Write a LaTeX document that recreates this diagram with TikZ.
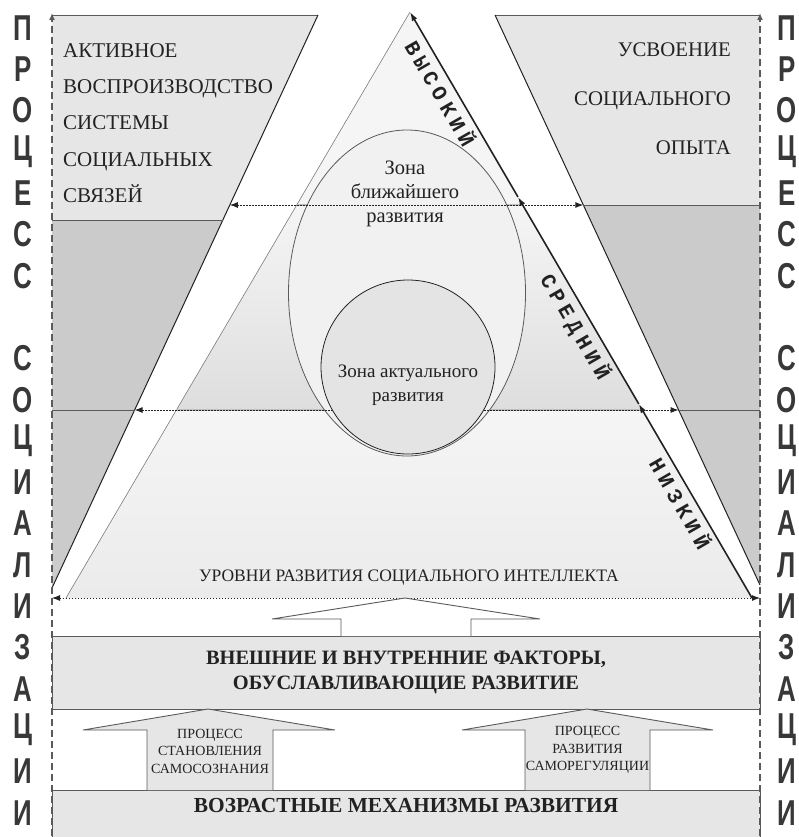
\documentclass[tikz,border=0pt]{standalone}
\usepackage{fontspec}
\setmainfont{Liberation Serif}
\newfontfamily\sidefont{Liberation Sans}
\newfontfamily\slopefont[LetterSpace=24]{Liberation Mono}
\usetikzlibrary{arrows.meta,positioning,calc}
\definecolor{pale}{HTML}{E6E6E6}
\definecolor{mid}{HTML}{CBCBCB}
\definecolor{tritop}{HTML}{F5F5F5}
\definecolor{trimid}{HTML}{DEDEDE}
\definecolor{trilow}{HTML}{EBEBEB}
\definecolor{zone}{HTML}{F1F1F1}
\definecolor{core}{HTML}{E4E4E4}
\definecolor{ink}{HTML}{222222}
\definecolor{rim}{HTML}{5A5A5A}
\tikzset{
  wing/.style={draw=rim, line width=0.9pt},
  slab/.style={draw=rim, fill=pale, line width=0.9pt, inner sep=0pt},
  uparrow/.style={draw=rim, line width=0.9pt, line join=miter},
  axis/.style={rim, line width=2.8pt, dash pattern=on 7pt off 4pt, -{Latex[length=7pt,width=6pt]}},
  level/.style={ink, line width=0.9pt, dash pattern=on 1.4pt off 1.6pt, {Latex[length=8pt,width=6pt]}-{Latex[length=8pt,width=6pt]}},
  rise/.style={ink, line width=1.6pt, -{Latex[length=9pt,width=6pt]}},
  sideletter/.style={font=\sidefont\bfseries\fontsize{36}{36}\selectfont, text=ink!90, xscale=0.72, inner sep=0pt},
  wingtext/.style={text=ink, inner sep=0pt},
  zonetext/.style={font=\fontsize{19}{24}\selectfont, align=center, text=ink, inner sep=0pt},
  slabtext/.style={font=\bfseries\fontsize{20.4}{25}\selectfont, align=center, text=ink, inner sep=0pt},
  steptext/.style={font=\fontsize{14}{17.5}\selectfont, align=center, text=ink, inner sep=0pt},
  slopetext/.style={font=\slopefont\bfseries\fontsize{21}{21}\selectfont, rotate=-60, text=ink, inner sep=0pt},
}
\newcommand{\sideword}[4]{%
  \foreach \ch [count=\n] in {#4} {%
    \node[sideletter] (#1\n) at (#2,{#3+41.3*(\n-1)}) {\ch};
  }}

\begin{document}
\begin{tikzpicture}[x=1pt,y=-1pt]
  \useasboundingbox (0,0) rectangle (799,837);

  % side wings
  \coordinate (lwTL) at (52,15);
  \coordinate (lwTR) at (318,15);
  \coordinate (lwB) at (52,588);
  \coordinate (lwA) at (222.8,220);
  \coordinate (lwAx) at (52,220);
  \coordinate (lwC) at (134.6,410);
  \coordinate (lwCx) at (52,410);
  \coordinate (rwTL) at (495,15);
  \coordinate (rwTR) at (760,15);
  \coordinate (rwB) at (760,585);
  \coordinate (rwA) at (583.3,205);
  \coordinate (rwAx) at (760,205);
  \coordinate (rwC) at (678.6,410);
  \coordinate (rwCx) at (760,410);
  \fill[pale] (lwTL) -- (lwTR) -- (lwA) -- (lwAx) -- cycle;
  \fill[mid] (lwAx) -- (lwA) -- (lwB) -- cycle;
  \fill[pale] (rwTL) -- (rwTR) -- (rwAx) -- (rwA) -- cycle;
  \fill[mid] (rwA) -- (rwAx) -- (rwB) -- cycle;
  \draw[wing] (lwTL) -- (lwTR);
  \draw[wing] (rwTL) -- (rwTR);
  \draw[ink, line width=1pt] (lwTR) -- (lwB) (rwTL) -- (rwB);
  \draw[wing] (lwAx) -- (lwA) (lwCx) -- (lwC);
  \draw[wing] (rwA) -- (rwAx) (rwC) -- (rwCx);

  % pyramid
  \coordinate (apex) at (410,12);
  \coordinate (baseL) at (66,598);
  \coordinate (baseR) at (752,598);
  \coordinate (tL1) at (296.7,205);
  \coordinate (tR1) at (522.6,205);
  \coordinate (tL2) at (176.4,410);
  \coordinate (tR2) at (642.3,410);
  \fill[tritop] (apex) -- (tR1) -- (tL1) -- cycle;
  \shade[top color=tritop, bottom color=trimid] (tL1) -- (tR1) -- (tR2) -- (tL2) -- cycle;
  \shade[top color=tritop, bottom color=trilow] (tL2) -- (tR2) -- (baseR) -- (baseL) -- cycle;
  \draw[rim!80, line width=0.6pt] (apex) -- (baseL);
  \draw[rim!40, line width=1.2pt] (tL1) -- (tR1) (tL2) -- (tR2);

  \draw[rim, line width=0.8pt, fill=zone] (407,293) ellipse [x radius=118.5, y radius=163];

  % levels
  \coordinate (lv1L) at (229.8,205);
  \coordinate (lv1R) at (rwA);
  \coordinate (lv2L) at (lwC);
  \coordinate (lv2R) at (rwC);
  \coordinate (lv3L) at (52,598);
  \coordinate (lv3R) at (760,598);
  \draw[level] (lv1L) -- (lv1R);
  \draw[level] (lv2L) -- (lv2R);
  \draw[ink, line width=0.8pt, fill=core] (408,367) circle [radius=87];
  \draw[level] (lv3L) -- (lv3R);

  \coordinate (r1) at (518,197);
  \coordinate (r2) at (638.8,404);
  \draw[rise] (baseR) -- (r2);
  \draw[rise] (r2) -- (r1);
  \draw[rise] (r1) -- (apex);

  \node[slopetext] (high) at (441,93) {ВЫСОКИЙ};
  \node[slopetext] (medium) at (575,327) {СРЕДНИЙ};
  \node[slopetext] (low) at (681,503) {НИЗКИЙ};

  \node[zonetext, font=\fontsize{20.5}{24}\selectfont] (nearzone) at (405,194) {Зона\\ближайшего\\развития};
  \node[zonetext] (actzone) at (408,385) {Зона актуального\\развития};
  \node[font=\fontsize{17.5}{18}\selectfont, text=ink, inner sep=0pt] (levels) at (409,578)
    {УРОВНИ РАЗВИТИЯ СОЦИАЛЬНОГО ИНТЕЛЛЕКТА};

  \node[wingtext, align=left, anchor=west, font=\fontsize{21}{36.3}\selectfont] (leftwing) at (63,123)
    {АКТИВНОЕ\\ВОСПРОИЗВОДСТВО\\СИСТЕМЫ\\СОЦИАЛЬНЫХ\\СВЯЗЕЙ};
  \node[wingtext, align=right, anchor=east, font=\fontsize{20.8}{49}\selectfont] (rightwing) at (731,99)
    {УСВОЕНИЕ\\СОЦИАЛЬНОГО\\ОПЫТА};

  % boxes and arrows
  \node[slab, minimum width=708pt, minimum height=73pt] (factors) at (406,672.5) {};
  \node[slabtext] (factorsText) at (406,672) {ВНЕШНИЕ И ВНУТРЕННИЕ ФАКТОРЫ,\\ОБУСЛАВЛИВАЮЩИЕ РАЗВИТИЕ};
  \node[slab, minimum width=708pt, minimum height=47pt] (ages) at (406,813.5) {};
  \node[slabtext, font=\bfseries\fontsize{21.4}{25}\selectfont] (agesText) at (406,806) {ВОЗРАСТНЫЕ МЕХАНИЗМЫ РАЗВИТИЯ};

  \draw[uparrow, fill=white] (341,636) -- (341,619) -- (272,619) -- (405,598) -- (540,619) -- (471,619) -- (471,636);
  \draw[uparrow, fill=pale] (147,790) -- (147,730) -- (83,730) -- (208,709) -- (335,730) -- (273,730) -- (273,790);
  \draw[uparrow, fill=pale] (525,790) -- (525,730) -- (462,730) -- (587,709) -- (713,730) -- (650,730) -- (650,790);
  \node[steptext] (selfaware) at (210,751) {ПРОЦЕСС\\СТАНОВЛЕНИЯ\\САМОСОЗНАНИЯ};
  \node[steptext] (selfreg) at (587.5,750) {ПРОЦЕСС\\РАЗВИТИЯ\\САМОРЕГУЛЯЦИИ};

  % socialisation axes
  \coordinate (axL0) at (52,836);
  \coordinate (axL1) at (52,13);
  \coordinate (axR0) at (760,836);
  \coordinate (axR1) at (760,13);
  \draw[axis] (axL0) -- (axL1);
  \draw[axis] (axR0) -- (axR1);

  \sideword{lp}{23}{28}{П,Р,О,Ц,Е,С,С}
  \sideword{ls}{23}{358.4}{С,О,Ц,И,А,Л,И,З,А,Ц,И,И}
  \sideword{rp}{787}{28}{П,Р,О,Ц,Е,С,С}
  \sideword{rs}{787}{358.4}{С,О,Ц,И,А,Л,И,З,А,Ц,И,И}
\end{tikzpicture}
\end{document}
